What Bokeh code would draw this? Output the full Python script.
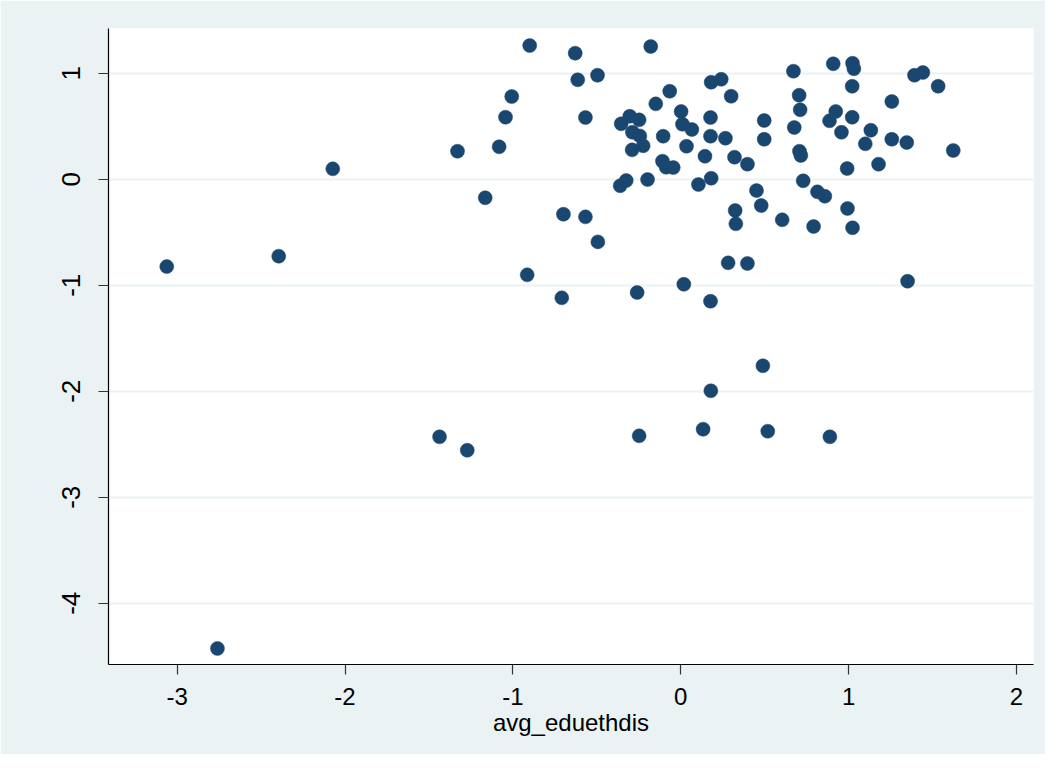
from bokeh.plotting import figure
from bokeh.models import FixedTicker, Range1d
from bokeh.embed import file_html
from bokeh.resources import INLINE

# avg_eduethdis (x) and y values
x_vals = [
    -0.900, -0.629, -0.179, -0.614, -0.496, -0.066, -1.007, -0.149, 0.002, -1.044,
    -0.568, -0.304, -0.248, -0.355, 0.010, 0.066, -0.288, -0.244, -0.105, -0.224,
    0.034, -0.290, -1.082, -1.330, -0.109, -0.087, -0.045, 0.144, -0.325, -0.361,
    -0.198, 0.105, -1.165, 0.181, 0.241, 0.300, 0.177, 0.177, 0.266, 0.320,
    0.397, 0.181, 0.451, 0.479, 0.671, 0.908, 1.023, 1.031, 1.392, 1.442,
    1.533, 1.021, 0.705, 0.711, 1.257, 0.497, 0.676, 0.923, 0.886, 1.021,
    0.957, 1.132, 0.497, 1.257, 1.346, 1.099, 1.623, 0.707, 0.715, 0.991,
    1.178, 0.729, 0.814, 0.858, 0.324, 0.328, 0.604, 0.993, 0.791, 1.023,
    0.282, 0.397, 1.351, 0.018, 0.177, -0.699, -0.568, -0.494, -0.915, -0.709,
    -0.260, -2.073, -2.395, -3.062, 0.489, 0.179, -1.437, -1.272, -0.248, 0.133,
    0.518, 0.888, -2.760,
]
y_vals = [
    1.261, 1.189, 1.252, 0.938, 0.981, 0.830, 0.780, 0.711, 0.639, 0.585,
    0.582, 0.594, 0.560, 0.523, 0.519, 0.469, 0.443, 0.409, 0.406, 0.315,
    0.311, 0.277, 0.306, 0.264, 0.170, 0.113, 0.110, 0.217, -0.012, -0.062,
    -0.003, -0.050, -0.175, 0.915, 0.943, 0.783, 0.582, 0.406, 0.387, 0.208,
    0.142, 0.009, -0.107, -0.248, 1.019, 1.089, 1.094, 1.042, 0.981, 1.007,
    0.877, 0.877, 0.792, 0.655, 0.733, 0.554, 0.488, 0.639, 0.551, 0.585,
    0.443, 0.462, 0.377, 0.377, 0.346, 0.334, 0.271, 0.264, 0.224, 0.101,
    0.142, -0.015, -0.119, -0.160, -0.295, -0.421, -0.383, -0.276, -0.446, -0.458,
    -0.789, -0.795, -0.962, -0.991, -1.151, -0.330, -0.355, -0.591, -0.902, -1.119,
    -1.069, 0.098, -0.726, -0.824, -1.760, -1.996, -2.430, -2.557, -2.421, -2.358,
    -2.377, -2.430, -4.427,
]

x_ticks = [-3, -2, -1, 0, 1, 2]
y_ticks = [-4, -3, -2, -1, 0, 1]
x_title = "avg_eduethdis"

FONT = "Liberation Sans"
BG = "#eaf2f3"
NAVY = "#1a476f"

p = figure(
    width=1045, height=754,
    output_backend="svg", toolbar_location=None,
    x_range=Range1d(-3.409, 2.101), y_range=Range1d(-4.578, 1.422),
    min_border_left=108, min_border_right=12, min_border_top=28, min_border_bottom=90,
)
p.background_fill_color = "white"
p.border_fill_color = BG
p.outline_line_color = None

p.scatter(x_vals, y_vals, size=14, fill_color=NAVY, line_color=NAVY, line_width=0.5)

# grid
p.xgrid.grid_line_color = None
p.ygrid.ticker = FixedTicker(ticks=y_ticks)
p.ygrid.grid_line_color = BG
p.ygrid.grid_line_width = 2

# x axis
xa = p.xaxis[0]
xa.ticker = FixedTicker(ticks=x_ticks)
xa.major_label_overrides = {t: str(t) for t in x_ticks}
xa.axis_label = x_title
xa.axis_label_text_font = FONT
xa.axis_label_text_font_size = "24px"
xa.axis_label_text_font_style = "normal"
xa.axis_label_text_color = "black"
xa.axis_label_standoff = 1
xa.major_label_text_font = FONT
xa.major_label_text_font_size = "24px"
xa.major_label_text_color = "black"
xa.major_label_standoff = 13
xa.major_tick_out = 10
xa.major_tick_in = 0
xa.minor_tick_line_color = None
xa.axis_line_color = "black"
xa.axis_line_width = 1.2
xa.major_tick_line_color = "#333333"
xa.major_tick_line_width = 1.2

# y axis
ya = p.yaxis[0]
ya.ticker = FixedTicker(ticks=y_ticks)
ya.major_label_overrides = {t: str(t) for t in y_ticks}
ya.major_label_orientation = "vertical"
ya.major_label_text_font = FONT
ya.major_label_text_font_size = "26px"
ya.major_label_text_color = "black"
ya.major_label_standoff = 18
ya.major_tick_out = 10
ya.major_tick_in = 0
ya.minor_tick_line_color = None
ya.axis_line_color = "black"
ya.axis_line_width = 1.2
ya.major_tick_line_color = "#333333"
ya.major_tick_line_width = 1.2

open("out.html", "w").write(file_html(p, INLINE))
